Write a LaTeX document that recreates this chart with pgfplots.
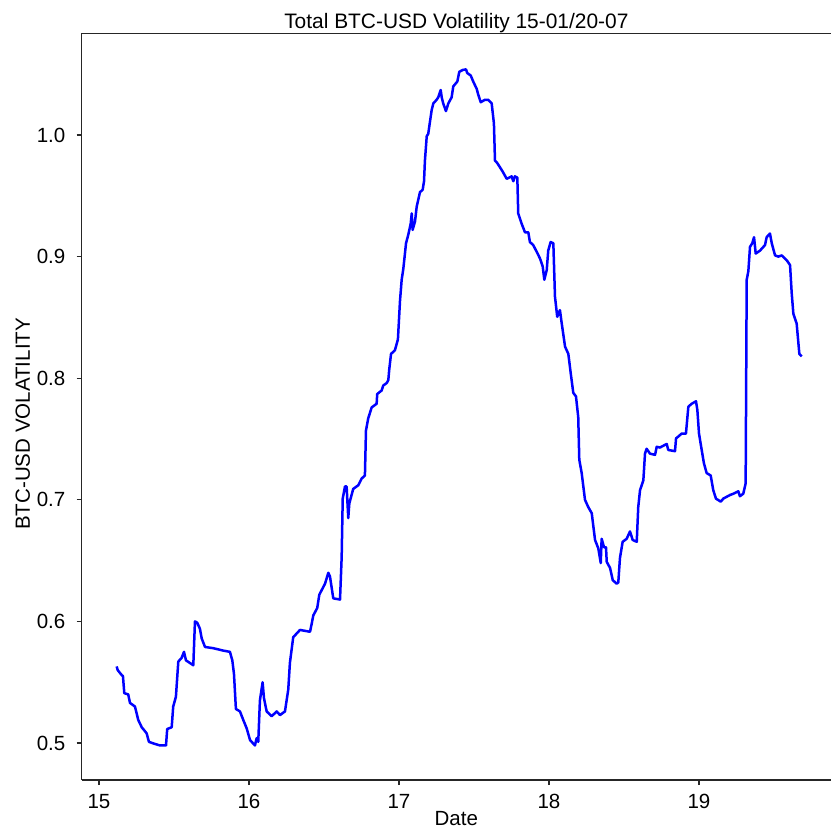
\documentclass[border=0pt]{standalone}
\usepackage{pgfplots}
\pgfplotsset{compat=1.18}
\usepackage{fontspec}
\setmainfont{Liberation Sans}
\usetikzlibrary{calc}
\definecolor{lineblue}{RGB}{0,0,255}
\newcommand{\lblfont}{\fontsize{10.3}{12}\selectfont}
\begin{document}
\begin{tikzpicture}
\begin{axis}[
  name=ax,
  scale only axis,
  width=374.65bp, height=373.25bp,
  xmin=14.885, xmax=19.88,
  ymin=0.4696, ymax=1.0835,
  axis x line=box, axis y line=left,
  x axis line style={-}, y axis line style={-},
  axis line style={black!85, line width=0.75bp},
  xtick={15,16,17,18,19},
  ytick={0.5,0.6,0.7,0.8,0.9,1.0},
  xtick pos=bottom, ytick pos=left,
  tick align=outside,
  major tick length=2.5bp,
  tick style={black!85, line width=0.6bp},
  /pgf/number format/assume math mode=true,
  yticklabel style={/pgf/number format/fixed, /pgf/number format/fixed zerofill, /pgf/number format/precision=1},
  yticklabel style={font=\lblfont, anchor=east, inner sep=0pt, xshift=-5.5bp},
  xticklabel style={font=\lblfont, anchor=base, inner sep=0pt, yshift=-11.5bp},
  title={Total BTC-USD Volatility 15-01/20-07},
  title style={font=\fontsize{10.5}{12}\selectfont, at={(axis description cs:0.5,1)}, anchor=base, yshift=-3.27bp, inner sep=0pt},
  xlabel={Date},
  xlabel style={font=\lblfont, at={(axis description cs:0.5,0)}, anchor=base, yshift=-22.5bp, inner sep=0pt},
  ylabel={BTC-USD VOLATILITY},
  ylabel style={font=\lblfont, at={(axis description cs:-0.0785,0.477)}, anchor=center, inner sep=0pt},
]
\addplot[lineblue, line width=1.25bp, line join=round] table {
x y
15.118 0.563
15.125 0.560
15.151 0.556
15.160 0.555
15.169 0.541
15.195 0.540
15.207 0.533
15.240 0.530
15.262 0.519
15.285 0.513
15.318 0.508
15.333 0.501
15.362 0.4997
15.407 0.498
15.447 0.498
15.455 0.5115
15.485 0.513
15.495 0.530
15.513 0.538
15.529 0.567
15.551 0.570
15.567 0.575
15.580 0.568
15.629 0.564
15.640 0.600
15.655 0.599
15.673 0.594
15.685 0.586
15.707 0.579
15.762 0.578
15.829 0.576
15.873 0.575
15.889 0.568
15.900 0.557
15.913 0.528
15.940 0.526
15.962 0.519
15.985 0.512
16.007 0.5025
16.040 0.498
16.051 0.504
16.062 0.501
16.073 0.535
16.091 0.550
16.100 0.537
16.118 0.526
16.151 0.522
16.185 0.526
16.207 0.523
16.240 0.526
16.262 0.544
16.273 0.566
16.295 0.587
16.340 0.593
16.407 0.5915
16.418 0.598
16.429 0.605
16.455 0.611
16.469 0.622
16.507 0.631
16.529 0.640
16.540 0.637
16.562 0.619
16.607 0.618
16.618 0.653
16.625 0.701
16.640 0.711
16.651 0.711
16.662 0.685
16.669 0.697
16.695 0.709
16.729 0.712
16.751 0.7175
16.773 0.720
16.780 0.757
16.795 0.767
16.818 0.776
16.851 0.779
16.855 0.787
16.885 0.790
16.895 0.794
16.918 0.796
16.929 0.7985
16.935 0.807
16.947 0.820
16.973 0.823
16.993 0.832
17.007 0.864
17.018 0.881
17.029 0.890
17.047 0.911
17.062 0.918
17.078 0.927
17.085 0.9355
17.091 0.922
17.107 0.929
17.118 0.941
17.140 0.953
17.158 0.955
17.167 0.962
17.173 0.979
17.185 0.999
17.195 1.001
17.218 1.0206
17.229 1.026
17.251 1.029
17.262 1.031
17.278 1.037
17.285 1.031
17.295 1.026
17.313 1.0197
17.329 1.026
17.351 1.031
17.362 1.040
17.389 1.044
17.402 1.052
17.425 1.0535
17.447 1.054
17.455 1.051
17.478 1.049
17.495 1.044
17.518 1.038
17.529 1.033
17.545 1.027
17.573 1.029
17.595 1.029
17.618 1.026
17.633 1.0095
17.640 0.979
17.655 0.977
17.691 0.970
17.718 0.964
17.751 0.966
17.762 0.962
17.773 0.966
17.789 0.965
17.795 0.9355
17.818 0.927
17.840 0.920
17.862 0.920
17.873 0.912
17.895 0.9095
17.918 0.904
17.940 0.8985
17.958 0.892
17.969 0.881
17.985 0.889
17.995 0.905
18.011 0.912
18.029 0.911
18.040 0.867
18.055 0.8505
18.073 0.856
18.085 0.845
18.107 0.826
18.129 0.820
18.145 0.804
18.162 0.788
18.180 0.785
18.195 0.768
18.202 0.733
18.218 0.722
18.240 0.700
18.262 0.694
18.285 0.689
18.307 0.667
18.329 0.660
18.345 0.648
18.351 0.668
18.367 0.661
18.380 0.661
18.385 0.649
18.407 0.644
18.425 0.634
18.451 0.631
18.462 0.632
18.473 0.652
18.491 0.6655
18.518 0.668
18.540 0.674
18.558 0.667
18.585 0.6655
18.595 0.694
18.607 0.708
18.629 0.716
18.640 0.738
18.651 0.742
18.673 0.738
18.707 0.737
18.718 0.7436
18.740 0.743
18.785 0.746
18.795 0.741
18.840 0.740
18.847 0.7505
18.885 0.7545
18.913 0.7545
18.929 0.7766
18.951 0.779
18.980 0.781
18.989 0.774
19.000 0.7545
19.018 0.741
19.033 0.730
19.051 0.722
19.078 0.720
19.095 0.708
19.113 0.701
19.145 0.6985
19.162 0.701
19.207 0.704
19.229 0.705
19.262 0.707
19.273 0.703
19.295 0.705
19.311 0.7135
19.318 0.881
19.329 0.888
19.340 0.908
19.355 0.911
19.367 0.916
19.378 0.9025
19.407 0.905
19.440 0.9095
19.451 0.916
19.473 0.919
19.485 0.911
19.507 0.901
19.529 0.900
19.551 0.901
19.585 0.897
19.607 0.893
19.618 0.870
19.629 0.853
19.651 0.845
19.669 0.820
19.685 0.818
};
\end{axis}
\pgfresetboundingbox
\path[use as bounding box] ($(ax.south west)+(-40.85bp,-24.5bp)$) rectangle ($(ax.north east)+(0.5bp,16.75bp)$);
\end{tikzpicture}
\end{document}
